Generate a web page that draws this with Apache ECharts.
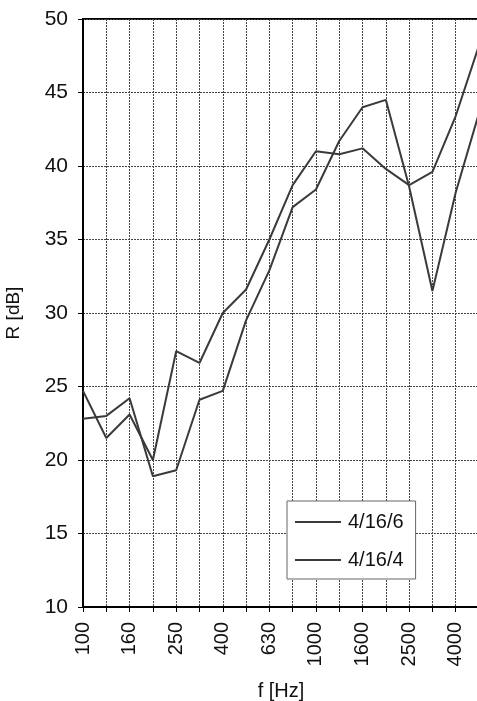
<!DOCTYPE html>
<html>
<head>
<meta charset="utf-8">
<script src="https://cdn.jsdelivr.net/npm/echarts@6/dist/echarts.min.js"></script>
<style>html,body{margin:0;padding:0;background:#fff}#c{width:477px;height:701px}</style>
</head>
<body>
<div id="c"></div>
<script>
var categories = ['100','125','160','200','250','315','400','500','630','800','1000','1250','1600','2000','2500','3150','4000','5000'];
var series1Name = '4/16/6';
var series2Name = '4/16/4';
var series1 = [24.7, 21.5, 23.1, 20.0, 27.4, 26.6, 30.0, 31.6, 35.0, 38.7, 41.0, 40.8, 41.2, 39.8, 38.7, 39.6, 43.4, 48.2];
var series2 = [22.8, 23.0, 24.2, 18.9, 19.3, 24.1, 24.7, 29.5, 32.9, 37.2, 38.4, 41.7, 44.0, 44.5, 38.6, 31.5, 38.2, 43.6];
var yMin = 10, yMax = 50, yStep = 5;

var chart = echarts.init(document.getElementById('c'));
var font = 'Liberation Sans, Arial, sans-serif';
chart.setOption({
  animation: false,
  backgroundColor: '#fff',
  grid: {left: 83, top: 19, bottom: 94, right: -2, show: true, borderColor: '#000', borderWidth: 2, containLabel: false, outerBoundsMode: 'none'},
  legend: {
    left: 287, top: 501, orient: 'vertical',
    data: [{name: series1Name, icon: 'rect'}, {name: series2Name, icon: 'rect'}],
    itemWidth: 46, itemHeight: 2, itemGap: 18,
    padding: [11, 12, 9, 8],
    backgroundColor: '#fff', borderColor: '#666', borderWidth: 1,
    textStyle: {fontFamily: font, fontSize: 20, color: '#111', padding: [0,0,0,2]}
  },
  xAxis: {
    type: 'category', data: categories, boundaryGap: false,
    name: 'f [Hz]', nameLocation: 'middle', nameGap: 74,
    nameTextStyle: {fontFamily: font, fontSize: 20, color: '#111'},
    axisLine: {lineStyle: {color: '#000', width: 2}},
    axisTick: {show: true, interval: 0, length: 5, lineStyle: {color: '#000'}},
    axisLabel: {interval: 1, rotate: 90, margin: 15, fontFamily: font, fontSize: 20, color: '#111'},
    splitLine: {show: true, interval: 0, lineStyle: {color: '#444', width: 1, type: [2, 1]}}
  },
  yAxis: {
    type: 'value', min: yMin, max: yMax, interval: yStep,
    name: 'R [dB]', nameLocation: 'middle', nameGap: 60,
    nameTextStyle: {fontFamily: font, fontSize: 19, color: '#111'},
    axisLine: {show: true, lineStyle: {color: '#000', width: 2}},
    axisTick: {show: true, length: 5, lineStyle: {color: '#000'}},
    axisLabel: {margin: 15, fontFamily: font, fontSize: 21, color: '#111'},
    splitLine: {show: true, lineStyle: {color: '#444', width: 1, type: [2, 1]}}
  },
  series: [
    {name: series1Name, type: 'line', data: series1, symbol: 'none', color: '#3a3a3a', lineStyle: {color: '#3a3a3a', width: 2}},
    {name: series2Name, type: 'line', data: series2, symbol: 'none', color: '#3a3a3a', lineStyle: {color: '#3a3a3a', width: 2}}
  ]
});
</script>
</body>
</html>
